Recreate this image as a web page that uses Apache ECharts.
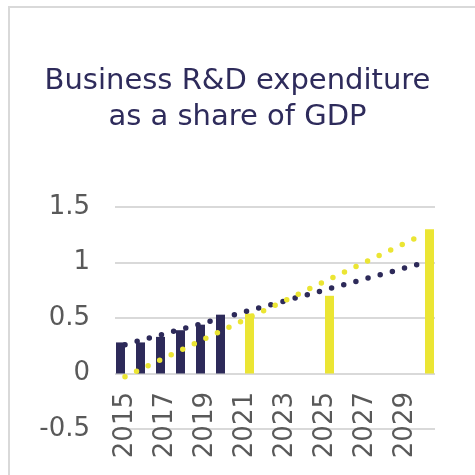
<!DOCTYPE html>
<html>
<head>
<meta charset="utf-8">
<script src="https://cdn.jsdelivr.net/npm/echarts@6/dist/echarts.min.js"></script>
<style>
  html, body { margin: 0; padding: 0; background: #fff; }
  #frame {
    position: absolute; left: 8px; top: 6px; width: 500px; height: 500px;
    border-left: 2px solid #d9d9d9; border-top: 2px solid #d9d9d9;
  }
  #main { position: absolute; left: 0; top: 0; width: 475px; height: 475px; }
</style>
</head>
<body>
<div id="frame"></div>
<div id="main"></div>
<script>
// years on the category axis
const years = ["2015", "2016", "2017", "2018", "2019", "2020", "2021", "2022",
  "2023", "2024", "2025", "2026", "2027", "2028", "2029", "2030"];
// actual values (navy bars)
const actual = [0.28, 0.28, 0.33, 0.39, 0.44, 0.53, null, null,
  null, null, null, null, null, null, null, null];
// targets (yellow bars)
const target = [null, null, null, null, null, null, 0.54, null,
  null, null, 0.70, null, null, null, null, 1.30];
// trend lines, read at first and last year
const actualTrend = [0.26, null, null, null, null, null, null, null,
  null, null, null, null, null, null, null, 1.00];
const targetTrend = [-0.03, null, null, null, null, null, null, null,
  null, null, null, null, null, null, null, 1.26];
// y axis range
const yTicks = [-0.5, 0, 0.5, 1, 1.5];

const navy = "#2d2a59";
const yellow = "#ebe533";
const font = "DejaVu Sans";

const myChart = echarts.init(document.getElementById("main"));
const option = {
  animation: false,
  title: {
    text: "Business R&D expenditure\nas a share of GDP",
    left: "center",
    top: 58,
    textStyle: {
      fontFamily: font,
      fontSize: 29,
      lineHeight: 36,
      fontWeight: "normal",
      color: "#2e2b5b",
    },
  },
  grid: {
    left: 115,
    right: 40,
    top: 207,
    bottom: 46,
    containLabel: false,
    outerBoundsMode: "none",
  },
  xAxis: {
    type: "category",
    data: years,
    boundaryGap: true,
    // labels hang just under the zero line
    offset: -56,
    axisLine: { show: false },
    axisTick: { show: false },
    axisLabel: {
      interval: 1,
      rotate: 90,
      margin: 19,
      fontFamily: font,
      fontSize: 26,
      color: "#595959",
    },
  },
  yAxis: {
    type: "value",
    min: yTicks[0],
    max: yTicks[yTicks.length - 1],
    interval: 0.5,
    axisLine: { show: false },
    axisTick: { show: false },
    splitLine: { lineStyle: { color: "#d9d9d9", width: 2 } },
    axisLabel: {
      margin: 25,
      fontFamily: font,
      fontSize: 26,
      color: "#595959",
    },
  },
  series: [
    {
      type: "bar",
      data: actual,
      barWidth: 9,
      barGap: "0%",
      itemStyle: { color: navy },
    },
    {
      type: "bar",
      data: target,
      barWidth: 9,
      barGap: "0%",
      itemStyle: { color: yellow },
    },
    {
      type: "line",
      data: actualTrend,
      connectNulls: true,
      symbol: "none",
      z: 5,
      lineStyle: { color: navy, width: 5.5, type: [0, 12.6], cap: "round" },
    },
    {
      type: "line",
      data: targetTrend,
      connectNulls: true,
      symbol: "none",
      z: 5,
      lineStyle: { color: yellow, width: 5.5, type: [0, 12.8], cap: "round" },
    },
  ],
};
myChart.setOption(option);
</script>
</body>
</html>
